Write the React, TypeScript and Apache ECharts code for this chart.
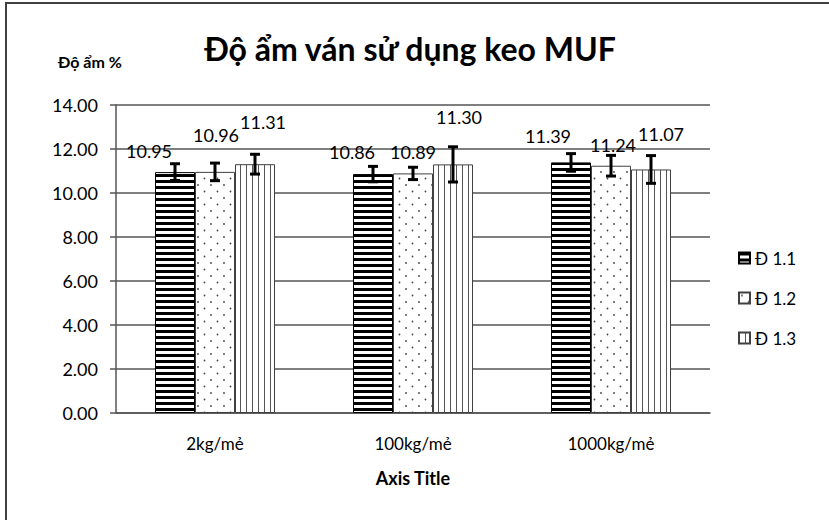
import React, { useEffect, useRef } from "react";
import * as echarts from "echarts";

const categories = ["2kg/mẻ", "100kg/mẻ", "1000kg/mẻ"];
const seriesNames = ["Đ 1.1", "Đ 1.2", "Đ 1.3"];
const valuesD11 = [10.95, 10.86, 11.39];
const valuesD12 = [10.96, 10.89, 11.24];
const valuesD13 = [11.31, 11.3, 11.07];
const errorsD11 = [0.38, 0.35, 0.4];
const errorsD12 = [0.4, 0.28, 0.47];
const errorsD13 = [0.45, 0.8, 0.63];
const yTickLabels = ["0.00", "2.00", "4.00", "6.00", "8.00", "10.00", "12.00", "14.00"];
const titleText = "Độ ẩm ván sử dụng keo MUF";
const yAxisTitle = "Độ ẩm %";
const xAxisTitle = "Axis Title";

// layout-only: label shifts (px) per series, per category
const labelShift = [
  [[-26, -11], [-21, -12], [-23, -16]],
  [[1, -27], [0, -11], [2, -11]],
  [[8, -32], [6, -37], [10, -25]],
];

const FONT = "Lato, 'Open Sans', sans-serif";

function makeCanvas(w: number, h: number, draw: (c: CanvasRenderingContext2D) => void) {
  const cv = document.createElement("canvas");
  cv.width = w;
  cv.height = h;
  const ctx = cv.getContext("2d")!;
  ctx.fillStyle = "#ffffff";
  ctx.fillRect(0, 0, w, h);
  draw(ctx);
  return cv;
}

export default function App() {
  const ref = useRef<HTMLDivElement>(null);
  useEffect(() => {
    if (!ref.current) return;
    const chart = echarts.init(ref.current, undefined, { renderer: "svg" });

    const hStripes = makeCanvas(6, 6, (c) => {
      c.fillStyle = "#000000";
      c.fillRect(0, 0, 6, 3);
    });
    const dots = makeCanvas(13, 13, (c) => {
      c.fillStyle = "#444444";
      c.beginPath();
      c.arc(3, 3, 0.9, 0, Math.PI * 2);
      c.fill();
      c.beginPath();
      c.arc(9.5, 9.5, 0.9, 0, Math.PI * 2);
      c.fill();
    });
    const vStripes = makeCanvas(6, 6, (c) => {
      c.fillStyle = "#555555";
      c.fillRect(0, 0, 1, 6);
    });
    const patterns = [hStripes, dots, vStripes];
    const borders = ["#000000", "#404040", "#404040"];
    const values = [valuesD11, valuesD12, valuesD13];
    const errors = [errorsD11, errorsD12, errorsD13];
    const barW = 40;

    const barSeries = values.map((vals, si) => ({
      type: "bar",
      name: seriesNames[si],
      barWidth: barW,
      barGap: "0%",
      itemStyle: {
        color: { image: patterns[si], repeat: "repeat" },
        borderColor: borders[si],
        borderWidth: 1,
      },
      label: {
        show: true,
        position: "top",
        distance: 0,
        fontFamily: FONT,
        fontSize: 18,
        lineHeight: 20,
        color: "#000",
        formatter: (p: any) => Number(p.value).toFixed(2),
      },
      data: vals.map((v, ci) => ({
        value: v,
        label: { offset: labelShift[si][ci] },
      })),
    }));

    const errSeries = values.map((vals, si) => ({
      type: "custom",
      name: seriesNames[si] + " err",
      z: 5,
      silent: true,
      renderItem: (params: any, api: any) => {
        const ci = api.value(0);
        const v = api.value(1);
        const e = api.value(2);
        const top = api.coord([ci, v + e]);
        const bot = api.coord([ci, v - e]);
        const cx = top[0] + (si - 1) * barW;
        const style = { stroke: "#000", lineWidth: 3 };
        return {
          type: "group",
          children: [
            { type: "line", shape: { x1: cx, y1: top[1], x2: cx, y2: bot[1] }, style },
            { type: "line", shape: { x1: cx - 5, y1: top[1], x2: cx + 5, y2: top[1] }, style },
            { type: "line", shape: { x1: cx - 5, y1: bot[1], x2: cx + 5, y2: bot[1] }, style },
          ],
        };
      },
      data: vals.map((v, ci) => [ci, v, errors[si][ci]]),
    }));

    chart.setOption({
      animation: false,
      backgroundColor: "#ffffff",
      title: [
        {
          text: titleText,
          left: 405,
          top: 27,
          textAlign: "center",
          textStyle: { fontFamily: FONT, fontSize: 32, fontWeight: "bold", color: "#000" },
        },
        {
          text: yAxisTitle,
          left: 53,
          top: 48,
          textStyle: { fontFamily: FONT, fontSize: 16, fontWeight: "bold", color: "#000" },
        },
      ],
      legend: {
        orient: "vertical",
        left: 733,
        top: 243,
        itemWidth: 11,
        itemHeight: 11,
        itemGap: 20,
        icon: "rect",
        textStyle: { fontFamily: FONT, fontSize: 17, color: "#000", lineHeight: 20 },
        data: seriesNames,
      },
      grid: { left: 116, top: 105, width: 594, height: 308, containLabel: false },
      xAxis: {
        type: "category",
        data: categories,
        axisTick: { show: false },
        axisLine: { lineStyle: { color: "#555", width: 1.5 } },
        axisLabel: { fontFamily: FONT, fontSize: 17, color: "#000", margin: 22 },
        name: xAxisTitle,
        nameLocation: "middle",
        nameGap: 56,
        nameTextStyle: { fontFamily: FONT, fontSize: 18, fontWeight: "bold", color: "#000" },
      },
      yAxis: {
        type: "value",
        min: 0,
        max: 14,
        interval: 2,
        axisLine: { show: true, lineStyle: { color: "#555", width: 1.5 } },
        axisTick: { show: true, length: 6, lineStyle: { color: "#555", width: 1.5 } },
        splitLine: { lineStyle: { color: "#555", width: 1.5 } },
        axisLabel: {
          fontFamily: FONT,
          fontSize: 18,
          color: "#000",
          margin: 18,
          formatter: (v: number) => yTickLabels[Math.round(v / 2)] ?? v.toFixed(2),
        },
      },
      graphic: [
        {
          type: "rect",
          shape: { x: 6, y: 3, width: 900, height: 700 },
          style: { fill: "none", stroke: "#404040", lineWidth: 2 },
          silent: true,
        },
      ],
      series: [...barSeries, ...errSeries],
    });
    return () => chart.dispose();
  }, []);
  return (
    <div
      ref={ref}
      style={{ position: "absolute", left: 0, top: 0, width: 829, height: 520, background: "#fff" }}
    />
  );
}
